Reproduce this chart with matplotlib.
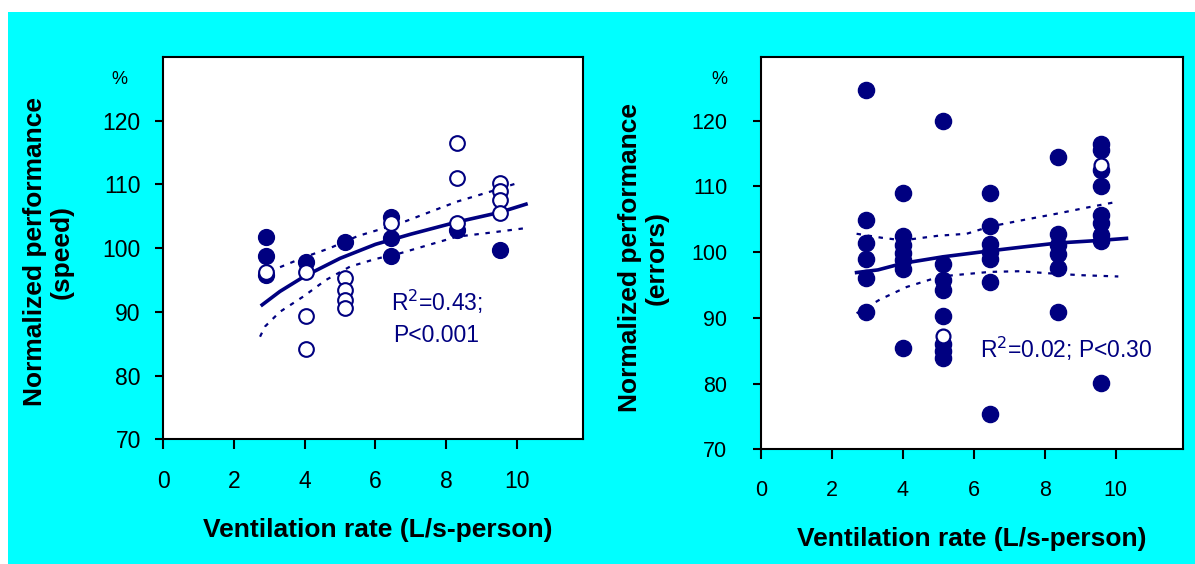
import numpy as np
import matplotlib
matplotlib.use('Agg')
import matplotlib.pyplot as plt
from matplotlib.patches import Rectangle

plt.rcParams['font.family'] = ['Liberation Sans', 'DejaVu Sans']

NAVY = '#000080'
CYAN = '#00FFFF'

# ---- data ----
# speed panel: filled (one condition) and open (other condition) points
speed_filled_x = [2.92, 2.92, 2.92, 4.03, 5.14, 6.44, 6.44, 6.44, 8.3, 9.52]
speed_filled_y = [101.8, 98.7, 95.8, 97.8, 100.9, 104.9, 101.6, 98.7, 102.8, 99.7]
speed_open_x = [2.92, 4.03, 4.03, 4.03, 5.14, 5.14, 5.14, 5.14, 6.44,
                8.3, 8.3, 8.3, 9.52, 9.52, 9.52, 9.52]
speed_open_y = [96.3, 96.3, 89.4, 84.2, 95.3, 93.4, 91.9, 90.6, 104.0,
                116.5, 111.0, 104.0, 110.2, 108.9, 107.6, 105.5]

speed_fit_x = [2.8, 3.3, 4.0, 5.0, 6.0, 7.0, 8.3, 9.5, 10.25]
speed_fit_y = [91.1, 93.2, 95.6, 98.4, 100.6, 102.2, 104.1, 105.6, 106.9]
speed_hi_x = [2.74, 3.21, 4.0, 4.71, 5.5, 6.7, 7.5, 8.3, 9.2, 10.0]
speed_hi_y = [95.5, 96.8, 98.6, 100.0, 101.9, 103.9, 105.6, 107.3, 108.8, 110.2]
speed_lo_x = [2.74, 2.88, 3.3, 3.96, 4.6, 5.28, 6.0, 6.7, 7.5, 8.3, 9.2, 10.18]
speed_lo_y = [86.1, 87.7, 90.0, 92.4, 95.0, 97.1, 98.3, 99.2, 100.5, 101.8, 102.4, 103.1]

# errors panel
err_filled_x = [2.97, 2.97, 2.97, 2.97, 2.97, 2.97,
                4.0, 4.0, 4.0, 4.0, 4.0, 4.0, 4.0,
                5.14, 5.14, 5.14, 5.14, 5.14, 5.14, 5.14, 5.14,
                6.46, 6.46, 6.46, 6.46, 6.46, 6.46, 6.46,
                8.38, 8.38, 8.38, 8.38, 8.38, 8.38,
                9.58, 9.58, 9.58, 9.58, 9.58, 9.58, 9.58, 9.58, 9.58]
err_filled_y = [124.7, 104.9, 101.4, 99.0, 96.0, 90.9,
                109.0, 102.5, 101.1, 99.9, 98.8, 97.4, 85.4,
                119.9, 98.2, 95.8, 94.3, 90.3, 86.0, 84.9, 83.9,
                109.0, 104.0, 101.2, 100.1, 99.0, 95.4, 75.3,
                114.5, 102.7, 101.1, 99.7, 97.6, 90.9,
                116.4, 115.6, 112.5, 110.1, 105.7, 104.4, 102.6, 101.7, 80.1]
err_open_x = [5.14, 9.58]
err_open_y = [87.2, 113.3]

err_fit_x = [2.7, 3.3, 4.0, 5.14, 6.46, 7.4, 8.38, 9.58, 10.3]
err_fit_y = [96.9, 97.3, 98.3, 99.3, 100.2, 100.8, 101.4, 101.8, 102.1]
err_hi_x = [2.7, 3.4, 4.0, 5.0, 5.8, 6.46, 7.4, 8.38, 9.2, 10.07]
err_hi_y = [102.8, 102.2, 101.8, 102.5, 102.8, 103.9, 104.9, 105.9, 106.8, 107.7]
err_lo_x = [2.7, 3.36, 4.11, 5.05, 6.46, 7.3, 8.06, 9.0, 10.07]
err_lo_y = [90.7, 92.8, 94.7, 96.3, 97.0, 97.1, 96.8, 96.5, 96.3]

xticks = [0, 2, 4, 6, 8, 10]
yticks = [70, 80, 90, 100, 110, 120]

W, H = 1195, 564
fig = plt.figure(figsize=(W / 100, H / 100), dpi=100)
fig.patch.set_facecolor('white')
fig.patches.append(Rectangle((8 / W, 0), 1 - 8 / W, 1 - 12 / H,
                             transform=fig.transFigure, facecolor=CYAN,
                             edgecolor='none', zorder=-10))


def px(x, y):
    return x / W, 1 - y / H


def setup(ax, xmax, ymax, size, ypad):
    ax.set_facecolor('white')
    ax.set_xlim(0, xmax)
    ax.set_ylim(70, ymax)
    ax.set_xticks(xticks)
    ax.set_yticks(yticks)
    ax.tick_params(axis='x', direction='out', length=7, width=1.5, pad=15,
                   labelsize=size)
    ax.tick_params(axis='y', direction='out', length=6, width=1.5, pad=ypad,
                   labelsize=size)
    for s in ax.spines.values():
        s.set_linewidth(1.5)
        s.set_color('black')


ax1 = fig.add_axes([163 / W, 1 - 439.3 / H, 420 / W, 382.3 / H])
setup(ax1, 11.86, 130, 16.5, 10)
ax1.plot(speed_fit_x, speed_fit_y, color=NAVY, lw=2.6, zorder=2)
ax1.plot(speed_hi_x, speed_hi_y, color=NAVY, lw=1.6, ls=(0, (2, 3)), zorder=2)
ax1.plot(speed_lo_x, speed_lo_y, color=NAVY, lw=1.6, ls=(0, (2, 3)), zorder=2)
ax1.scatter(speed_filled_x, speed_filled_y, s=130, color=NAVY, zorder=3)
ax1.scatter(speed_open_x, speed_open_y, s=112, facecolor='white',
            edgecolor=NAVY, linewidth=1.5, zorder=4)
ax1.text(*px(391, 302), 'R$^2$=0.43;', transform=fig.transFigure,
         color=NAVY, fontsize=16.5, va='center', ha='left')
ax1.text(*px(393, 336), 'P<0.001', transform=fig.transFigure,
         color=NAVY, fontsize=16.5, va='center', ha='left')

ax2 = fig.add_axes([760.7 / W, 1 - 449.3 / H, 422.6 / W, 392.3 / H])
setup(ax2, 11.9, 129.7, 15.5, 18)
ax2.plot(err_fit_x, err_fit_y, color=NAVY, lw=2.6, zorder=2)
ax2.plot(err_hi_x, err_hi_y, color=NAVY, lw=1.6, ls=(0, (2, 3)), zorder=2)
ax2.plot(err_lo_x, err_lo_y, color=NAVY, lw=1.6, ls=(0, (2, 3)), zorder=2)
ax2.scatter(err_filled_x, err_filled_y, s=135, color=NAVY, zorder=3)
ax2.scatter(err_open_x, err_open_y, s=100, facecolor='white',
            edgecolor=NAVY, linewidth=1.6, zorder=4)
ax2.text(*px(980, 349), 'R$^2$=0.02; P<0.30', transform=fig.transFigure,
         color=NAVY, fontsize=16.5, va='center', ha='left')

# axis labels and % signs
fig.text(*px(119, 80), '%', fontsize=13, ha='center', va='center')
fig.text(*px(719, 80), '%', fontsize=13, ha='center', va='center')
fig.text(*px(48, 252), 'Normalized performance\n(speed)', rotation=90,
         fontsize=19, fontweight='bold', ha='center', va='center',
         linespacing=1.15)
fig.text(*px(643, 258), 'Normalized performance\n(errors)', rotation=90,
         fontsize=19, fontweight='bold', ha='center', va='center',
         linespacing=1.15)
fig.text(*px(378, 530), 'Ventilation rate (L/s-person)', fontsize=19,
         fontweight='bold', ha='center', va='center')
fig.text(*px(972, 539), 'Ventilation rate (L/s-person)', fontsize=19,
         fontweight='bold', ha='center', va='center')

fig.savefig('out.png', dpi=100)
